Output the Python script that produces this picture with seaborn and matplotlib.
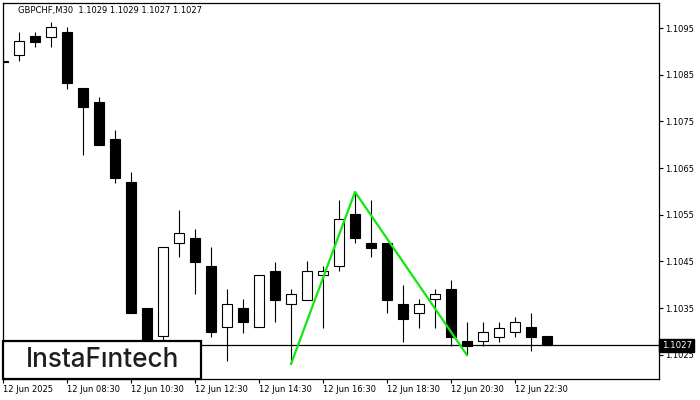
import numpy as np
import pandas as pd
import matplotlib
matplotlib.use("Agg")
import matplotlib.pyplot as plt
import matplotlib.transforms as mtransforms
from matplotlib.patches import Rectangle
import seaborn as sns

# GBPCHF M30 candles
opens = [1.10880, 1.10892, 1.10933, 1.10931, 1.10941, 1.10821, 1.10791, 1.10712, 1.10620, 1.10350,
         1.10290, 1.10489, 1.10500, 1.10440, 1.10309, 1.10350, 1.10309, 1.10429, 1.10359, 1.10367,
         1.10421, 1.10440, 1.10551, 1.10489, 1.10489, 1.10359, 1.10339, 1.10369, 1.10391, 1.10279,
         1.10279, 1.10288, 1.10299, 1.10309, 1.10290]
highs = [1.10911, 1.10941, 1.10941, 1.10963, 1.10952, 1.10821, 1.10802, 1.10731, 1.10641, 1.10350,
         1.10481, 1.10560, 1.10519, 1.10481, 1.10391, 1.10369, 1.10421, 1.10449, 1.10391, 1.10451,
         1.10440, 1.10581, 1.10599, 1.10581, 1.10489, 1.10399, 1.10369, 1.10391, 1.10410, 1.10320,
         1.10320, 1.10320, 1.10331, 1.10339, 1.10290]
lows = [1.10875, 1.10879, 1.10909, 1.10909, 1.10819, 1.10678, 1.10699, 1.10618, 1.10339, 1.10250,
        1.10280, 1.10459, 1.10380, 1.10288, 1.10236, 1.10296, 1.10309, 1.10320, 1.10230, 1.10367,
        1.10307, 1.10429, 1.10489, 1.10460, 1.10339, 1.10277, 1.10307, 1.10307, 1.10269, 1.10249,
        1.10269, 1.10277, 1.10288, 1.10258, 1.10270]
closes = [1.10878, 1.10922, 1.10920, 1.10952, 1.10832, 1.10781, 1.10699, 1.10629, 1.10339, 1.10270,
          1.10481, 1.10511, 1.10449, 1.10299, 1.10359, 1.10320, 1.10421, 1.10367, 1.10380, 1.10429,
          1.10429, 1.10541, 1.10500, 1.10479, 1.10367, 1.10326, 1.10359, 1.10380, 1.10288, 1.10269,
          1.10299, 1.10307, 1.10320, 1.10288, 1.10270]

time_labels = ["12 Jun 2025", "12 Jun 08:30", "12 Jun 10:30", "12 Jun 12:30", "12 Jun 14:30",
               "12 Jun 16:30", "12 Jun 18:30", "12 Jun 20:30", "12 Jun 22:30"]
time_label_bars = [0, 4, 8, 12, 16, 20, 24, 28, 32]

price_ticks = [1.1025, 1.1035, 1.1045, 1.1055, 1.1065, 1.1075, 1.1085, 1.1095]

# double top pattern points (bar index, price)
pattern_bars = [18, 22, 29]
pattern_prices = [1.10230, 1.10599, 1.10249]

last_price = 1.1027
title = "GBPCHF,M30  1.1029 1.1029 1.1027 1.1027"

sns.set_style("white")
plt.rcParams["font.family"] = ["DejaVu Sans"]

df = pd.DataFrame({"open": opens, "high": highs, "low": lows, "close": closes})
df["bar"] = np.arange(len(df))
df["bottom"] = df[["open", "close"]].min(axis=1)
df["height"] = (df["close"] - df["open"]).abs()
df["fill"] = np.where(df["close"] >= df["open"], "white", "black")

fig = plt.figure(figsize=(7, 4), dpi=100)
ax = fig.add_axes([3 / 700, 1 - 379 / 400, 656 / 700, 376 / 400])

# wicks then bodies
ax.vlines(df["bar"], df["low"], df["high"], color="black", linewidth=0.8, zorder=2)
ax.bar(df["bar"], df["height"], bottom=df["bottom"], width=0.62,
       color=df["fill"], edgecolor="black", linewidth=0.8, zorder=3)

# current price line
ax.axhline(last_price, color="black", linewidth=0.9, zorder=1)

# pattern
sns.lineplot(x=pattern_bars, y=pattern_prices, sort=False, color="#10e810",
             linewidth=1.6, ax=ax, zorder=5)

ax.set_xlim(0, 41)
ax.set_ylim(1.10198, 1.11004)

ax.yaxis.tick_right()
ax.set_yticks(price_ticks)
ax.set_yticklabels([f"{p:.4f}" for p in price_ticks])
ax.set_xticks(time_label_bars)
ax.set_xticklabels(time_labels)
for lbl in ax.get_xticklabels():
    lbl.set_ha("left")
ax.tick_params(axis="both", which="both", direction="out", length=3, width=0.8,
               color="black", labelsize=6, labelcolor="black", pad=1.5)
ax.tick_params(axis="y", left=False, right=True)
ax.tick_params(axis="x", bottom=True)
ax.set_xlabel("")
ax.set_ylabel("")
for sp in ax.spines.values():
    sp.set_visible(True)
    sp.set_color("black")
    sp.set_linewidth(0.9)

# last price tag on the right scale
trans = mtransforms.blended_transform_factory(ax.transAxes, ax.transData)
ax.text(1.004, last_price, f"{last_price:.4f}", transform=trans, ha="left", va="center",
        fontsize=6.2, color="white", zorder=10, clip_on=False,
        bbox=dict(boxstyle="square,pad=0.25", facecolor="black", edgecolor="black"))

# title
fig.text(18 / 700, 1 - 10.5 / 400, title, ha="left", va="center", fontsize=6, color="black")

# watermark box
ax.add_patch(Rectangle((0, 0), 198 / 656, 38 / 376, transform=ax.transAxes,
                       facecolor="white", edgecolor="black", linewidth=1.6, zorder=8,
                       clip_on=False))
ax.text(100 / 656, 19 / 376, "InstaFıntech", transform=ax.transAxes, ha="center", va="center",
        fontsize=18.8, color="#1e1e1e", family=["Inter", "DejaVu Sans"], fontweight="medium",
        zorder=9)

fig.savefig("out.png", dpi=100)
